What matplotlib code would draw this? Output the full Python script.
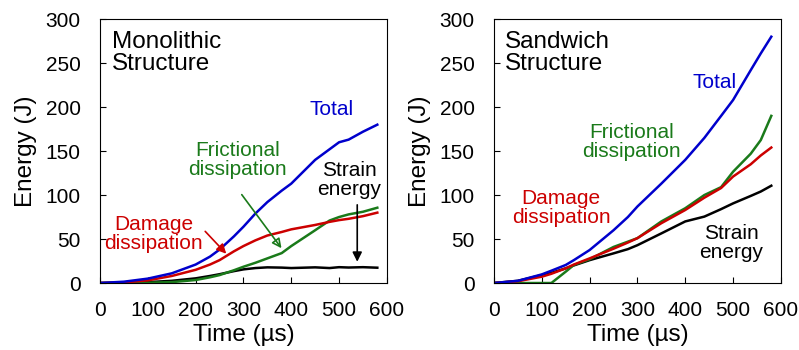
import numpy as np
import matplotlib.pyplot as plt

plt.rcParams['font.family'] = ['Liberation Sans', 'DejaVu Sans']

# ---------------- DATA ---------------- #

# Monolithic structure
t_mono = [0, 50, 100, 150, 200, 230, 250, 280, 300, 325, 350, 380, 400, 450, 480, 500, 520, 550, 580]
total_mono = [0, 1.5, 5, 11, 21, 30, 38, 53, 64, 79, 92, 105, 113, 140, 152, 160, 163, 172, 180]
damage_mono = [0, 0.7, 3, 8, 15, 21, 26, 36, 42, 48.5, 54, 58, 61, 66, 69.5, 71.5, 73, 76, 80]
fric_mono = [0, 0, 0.3, 1, 3.4, 6.5, 9, 14.5, 18.5, 23, 28, 34, 42, 60, 71, 75, 78, 81, 85.6]
strain_mono = [0, 0.3, 1, 2.5, 5.3, 8, 10, 13.5, 15.5, 17, 17.8, 17.5, 17, 17.8, 17, 18, 17.6, 18, 17.4]

# Sandwich structure
t_sand = [0, 50, 100, 120, 150, 167, 200, 250, 280, 300, 350, 400, 440, 475, 500, 537, 558, 580]
total_sand = [0, 2.5, 9.8, 14, 20.5, 26, 37.5, 60, 75, 87, 113, 140, 165, 190, 208, 242, 261, 280]
damage_sand = [0, 2, 7.2, 10.5, 16.7, 21, 28, 39, 46, 51, 68, 83, 97, 108, 121, 135, 145, 154]
fric_sand = [0, 0, 0, 0, 12.9, 20.5, 27, 41, 47, 51, 70, 85, 100, 109, 126.5, 147, 162.5, 190]
strain_sand = [0, 2.5, 9, 11.5, 16.7, 20, 26, 33.7, 38.5, 43, 56.4, 70, 75.5, 84, 90.5, 99, 104, 110.6]

BLUE = '#0000CC'
RED = '#CC0000'
GREEN = '#1A7A1A'

fig = plt.figure(figsize=(7.99, 3.5), dpi=100)
ax1 = fig.add_axes([0.1252, 0.1914, 0.359, 0.754])
ax2 = fig.add_axes([0.6183, 0.1914, 0.359, 0.754])

for ax, t, tot, dam, fric, strain in [
        (ax1, t_mono, total_mono, damage_mono, fric_mono, strain_mono),
        (ax2, t_sand, total_sand, damage_sand, fric_sand, strain_sand)]:
    ax.plot(t, strain, color='black', lw=1.8)
    ax.plot(t, fric, color=GREEN, lw=1.8)
    ax.plot(t, dam, color=RED, lw=1.8)
    ax.plot(t, tot, color=BLUE, lw=1.8)
    ax.set_xlim(0, 600)
    ax.set_ylim(0, 300)
    ax.set_xticks(range(0, 601, 100))
    ax.set_yticks(range(0, 301, 50))
    ax.tick_params(direction='in', labelsize=15, length=4, width=0.8)
    ax.tick_params(axis='x', pad=13)
    ax.tick_params(axis='y', pad=14)
    ax.set_xlabel('Time (µs)', fontsize=17.5, labelpad=3)
    ax.set_ylabel('Energy (J)', fontsize=17.5, labelpad=6)
    for s in ax.spines.values():
        s.set_linewidth(0.8)

# Monolithic annotations
ax1.text(25, 287, 'Monolithic\nStructure', fontsize=17.5, va='top', ha='left',
         linespacing=1.0)
ax1.text(484, 197, 'Total', color=BLUE, fontsize=15, ha='center', va='center')
ax1.text(287, 140, 'Frictional\ndissipation', color=GREEN, fontsize=15,
         ha='center', va='center', linespacing=1.0)
ax1.text(521, 117, 'Strain\nenergy', color='black', fontsize=15,
         ha='center', va='center', linespacing=1.0)
ax1.text(112, 56, 'Damage\ndissipation', color=RED, fontsize=15,
         ha='center', va='center', linespacing=1.0)
ax1.annotate('', xy=(383, 37), xytext=(293, 103),
             arrowprops=dict(arrowstyle='-|>', color=GREEN, lw=1.2,
                             mutation_scale=14, fill=False))
ax1.annotate('', xy=(538, 21), xytext=(538, 92),
             arrowprops=dict(arrowstyle='-|>', color='black', lw=1.2,
                             mutation_scale=14))
ax1.annotate('', xy=(268, 31), xytext=(216, 61),
             arrowprops=dict(arrowstyle='-|>', color=RED, lw=1.2,
                             mutation_scale=14))

# Sandwich annotations
ax2.text(22, 287, 'Sandwich\nStructure', fontsize=17.5, va='top', ha='left',
         linespacing=1.0)
ax2.text(462, 228, 'Total', color=BLUE, fontsize=15, ha='center', va='center')
ax2.text(288, 160, 'Frictional\ndissipation', color=GREEN, fontsize=15,
         ha='center', va='center', linespacing=1.0)
ax2.text(140, 85, 'Damage\ndissipation', color=RED, fontsize=15,
         ha='center', va='center', linespacing=1.0)
ax2.text(497, 45, 'Strain\nenergy', color='black', fontsize=15,
         ha='center', va='center', linespacing=1.0)

fig.savefig('out.png', dpi=100)
